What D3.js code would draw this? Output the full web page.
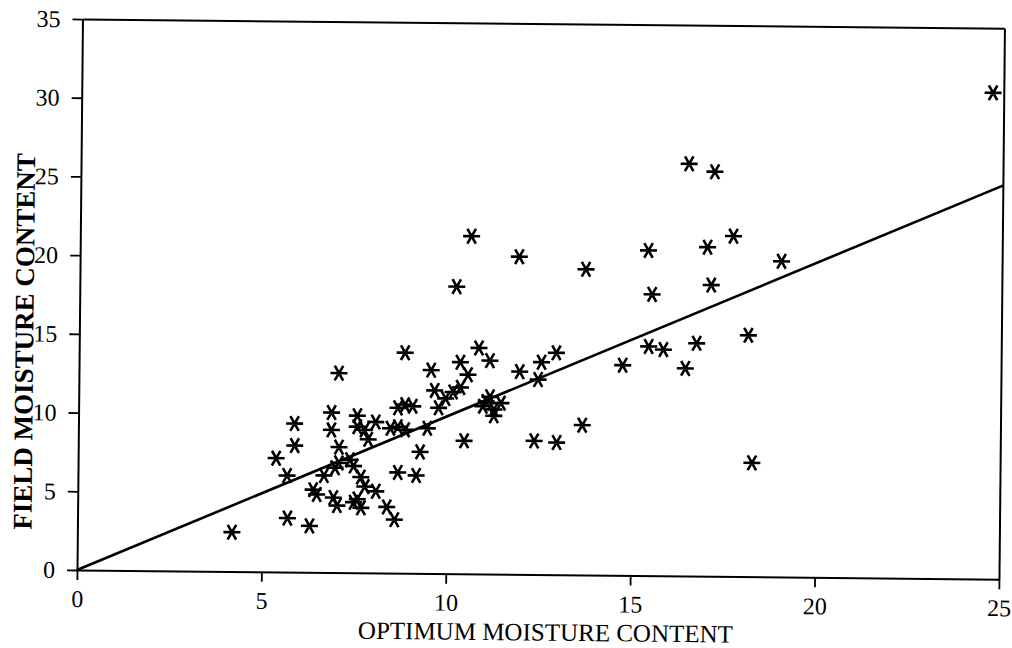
<!DOCTYPE html>
<html>
<head>
<meta charset="utf-8">
<script src="https://cdn.jsdelivr.net/npm/d3@7"></script>
<style>
  html, body { margin: 0; padding: 0; background: #fff; }
  svg { display: block; }
  text { font-family: "Liberation Serif", "DejaVu Serif", serif; fill: #000; }
</style>
</head>
<body>
<svg id="chart" width="1012" height="648"></svg>
<script>
// ---- data ----
const xTicks = [0, 5, 10, 15, 20, 25];
const yTicks = [0, 5, 10, 15, 20, 25, 30, 35];
const xTitle = "OPTIMUM MOISTURE CONTENT";
const yTitle = "FIELD MOISTURE CONTENT";
const optimum = [4.19,5.37,5.67,5.69,5.86,5.87,6.29,6.38,6.48,6.67,6.86,6.86,7.05,7.07,6.97,6.93,7.03,7.07,7.37,7.47,
  7.56,7.56,7.76,7.86,8.06,7.67,7.78,7.58,7.68,7.48,8.08,8.38,8.59,8.67,8.46,8.66,8.66,8.85,8.84,8.86,
  9.06,9.17,9.27,9.46,9.55,9.65,9.76,9.95,10.15,10.35,10.34,10.46,10.55,10.22,10.61,10.84,11.14,11.05,11.26,11.45,
  11.26,10.96,11.15,11.95,11.91,12.36,12.45,12.54,12.94,12.97,13.66,13.72,14.74,15.44,15.41,15.52,15.84,16.44,16.49,16.74,
  17.01,17.12,17.19,17.71,18.14,18.27,19.02,24.71];
const field = [2.50,7.23,6.13,3.43,9.44,8.04,2.95,5.25,4.95,6.16,10.16,9.06,12.67,7.97,6.66,4.76,4.26,6.97,7.17,6.78,
  9.98,9.28,9.08,8.48,9.59,6.08,5.48,4.68,4.13,4.48,5.19,4.20,3.40,6.40,9.20,9.30,10.50,10.71,14.01,9.11,
  10.61,6.22,7.72,9.22,12.92,11.63,10.53,11.13,11.54,11.84,13.44,8.45,12.65,18.24,21.45,14.36,13.56,10.96,10.46,10.87,
  10.06,10.66,11.26,12.88,20.18,8.49,12.39,13.49,14.10,8.40,9.52,19.42,13.35,14.56,20.66,17.87,14.37,13.19,26.19,14.79,
  20.90,18.50,25.70,21.62,15.33,7.23,20.05,30.89];
const fitLine = [[0, 0], [25, 25]];

// ---- layout ----
const svg = d3.select("#chart");
const mLeft = 77, mTop = 19, W = 922, H = 551;
const tilt = 0.57; // scan is slightly rotated

const x = d3.scaleLinear().domain([0, 25]).range([0, W]);
const y = d3.scaleLinear().domain([0, 35]).range([H, 0]);

const g = svg.append("g")
  .attr("transform", `rotate(${tilt},${mLeft},${mTop + H}) translate(${mLeft},${mTop})`);

// frame: top and right
g.append("g").call(d3.axisTop(x).tickValues([]).tickSizeOuter(0))
  .call(s => s.select(".domain").attr("stroke-width", 2));
g.append("g").attr("transform", `translate(${W},0)`)
  .call(d3.axisRight(y).tickValues([]).tickSizeOuter(0))
  .call(s => s.select(".domain").attr("stroke-width", 2));

// bottom axis
const xa = g.append("g").attr("transform", `translate(0,${H})`)
  .call(d3.axisBottom(x).tickValues(xTicks).tickFormat(d3.format("d")).tickSize(10).tickSizeOuter(0));
xa.select(".domain").attr("stroke-width", 2);
xa.selectAll(".tick line").attr("stroke-width", 1.8);
xa.selectAll(".tick text").attr("y", 37).attr("dy", null)
  .style("font-size", "24px").style("font-family", "'Liberation Serif', serif");

// left axis
const ya = g.append("g")
  .call(d3.axisLeft(y).tickValues(yTicks).tickFormat(d3.format("d")).tickSize(10).tickPadding(12).tickSizeOuter(0));
ya.select(".domain").attr("stroke-width", 2);
ya.selectAll(".tick line").attr("stroke-width", 1.8);
ya.selectAll(".tick text")
  .style("font-size", "24px").style("font-family", "'Liberation Serif', serif");

// titles
g.append("text")
  .attr("x", 469).attr("y", H + 66)
  .attr("text-anchor", "middle")
  .style("font-size", "25px")
  .text(xTitle);
g.append("text")
  .attr("transform", `translate(-46,${H - 228}) rotate(-90)`)
  .attr("text-anchor", "middle")
  .style("font-size", "27px").style("font-weight", "bold")
  .text(yTitle);

// 1:1 line
g.append("path")
  .datum(fitLine)
  .attr("d", d3.line().x(d => x(d[0])).y(d => y(d[1])))
  .attr("fill", "none").attr("stroke", "#000").attr("stroke-width", 2.6);

// asterisk markers
const asterisk = {
  draw(ctx, size) {
    const r = Math.sqrt(size) / 2;
    for (const a of [0, 60, 120]) {
      const t = a * Math.PI / 180;
      ctx.moveTo(-r * Math.cos(t), -r * Math.sin(t));
      ctx.lineTo(r * Math.cos(t), r * Math.sin(t));
    }
  }
};
const pts = optimum.map((v, i) => ({ o: v, f: field[i] }));
g.append("g").selectAll("path")
  .data(pts)
  .join("path")
  .attr("transform", d => `translate(${x(d.o)},${y(d.f)})`)
  .attr("d", d3.symbol(asterisk, 17 * 17))
  .attr("fill", "none").attr("stroke", "#000").attr("stroke-width", 2.6);
</script>
</body>
</html>
